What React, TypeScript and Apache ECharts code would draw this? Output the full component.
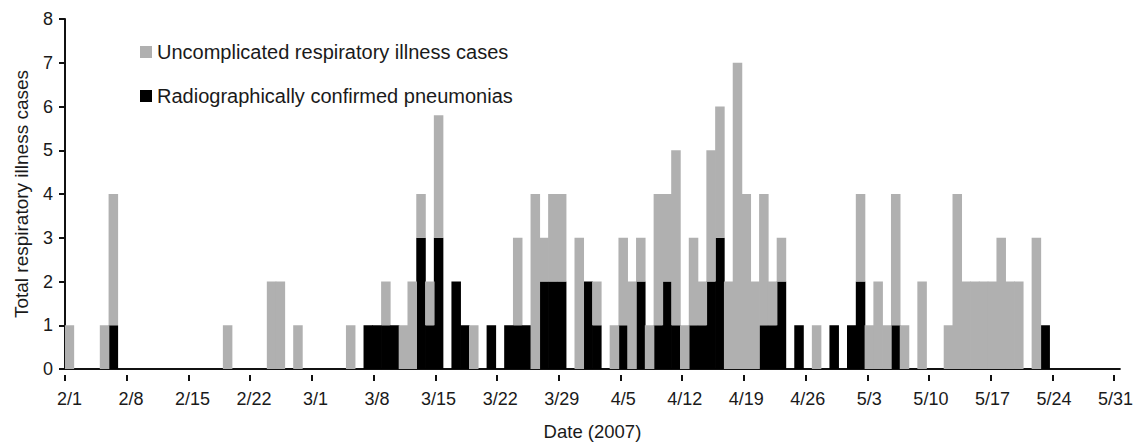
import React, { useEffect, useRef } from "react";
import * as echarts from "echarts";

// Daily counts from 2/1/2007 to 5/31/2007 (120 days), one row per week
const pneumonia: number[] = [
  0, 0, 0, 0, 0, 1, 0,
  0, 0, 0, 0, 0, 0, 0,
  0, 0, 0, 0, 0, 0, 0,
  0, 0, 0, 0, 0, 0, 0,
  0, 0, 0, 0, 0, 0, 1,
  1, 1, 1, 0, 0, 3, 1,
  3, 0, 2, 1, 0, 0, 1,
  0, 1, 1, 1, 0, 2, 2,
  2, 0, 0, 2, 1, 0, 0,
  1, 0, 2, 0, 1, 2, 1,
  0, 1, 1, 2, 3, 0, 0,
  0, 0, 1, 1, 2, 0, 1,
  0, 0, 0, 1, 0, 1, 2,
  0, 0, 0, 1, 0, 0, 0,
  0, 0, 0, 0, 0, 0, 0,
  0, 0, 0, 0, 0, 0, 1,
  0, 0, 0, 0, 0, 0, 0,
  0,
];

const uncomplicated: number[] = [
  1, 0, 0, 0, 1, 3, 0,
  0, 0, 0, 0, 0, 0, 0,
  0, 0, 0, 0, 1, 0, 0,
  0, 0, 2, 2, 0, 1, 0,
  0, 0, 0, 0, 1, 0, 0,
  0, 1, 0, 1, 2, 1, 1,
  2.8, 0, 0, 0, 1, 0, 0,
  0, 0, 2, 0, 4, 1, 2,
  2, 0, 3, 0, 1, 0, 1,
  2, 2, 1, 1, 3, 2, 4,
  1, 2, 1, 3, 3, 2, 7,
  4, 2, 3, 1, 1, 0, 0,
  0, 1, 0, 0, 0, 0, 2,
  1, 2, 1, 3, 1, 0, 2,
  0, 0, 1, 4, 2, 2, 2,
  2, 3, 2, 2, 0, 3, 0,
  0, 0, 0, 0, 0, 0, 0,
  0,
];

const startDate = { year: 2007, month: 2, day: 1 };
const dayCount = 120;
const categories: string[] = (() => {
  const out: string[] = [];
  const d = new Date(Date.UTC(startDate.year, startDate.month - 1, startDate.day));
  for (let i = 0; i < dayCount; i++) {
    out.push(`${d.getUTCMonth() + 1}/${d.getUTCDate()}`);
    d.setUTCDate(d.getUTCDate() + 1);
  }
  return out;
})();

const uncomplicatedName = "Uncomplicated respiratory illness cases";
const pneumoniaName = "Radiographically confirmed pneumonias";
const yAxisName = "Total respiratory illness cases";
const xAxisName = "Date (2007)";

const FONT = "'Liberation Sans', Arial, Helvetica, sans-serif";
const TEXT = "#1a1a1a";
const AXIS = "#111111";
const GRAY = "#b0b0b0";
const BLACK = "#000000";

const W = 1136;
const H = 446;
const GRID_LEFT = 65;
const GRID_RIGHT = 13;
const GRID_TOP = 19;
const GRID_BOTTOM = 71;

export default function App() {
  const ref = useRef<HTMLDivElement>(null);

  useEffect(() => {
    if (!ref.current) return;
    const chart = echarts.init(ref.current, undefined, { renderer: "svg" });
    const plotWidth = W - GRID_LEFT - GRID_RIGHT;
    const dayW = plotWidth / dayCount;
    const tickGridRight = W - GRID_LEFT - dayW * (dayCount - 1);

    chart.setOption({
      animation: false,
      backgroundColor: "#ffffff",
      textStyle: { fontFamily: FONT },
      legend: {
        data: [uncomplicatedName, pneumoniaName],
        orient: "vertical",
        left: 140,
        top: 42,
        padding: 0,
        itemWidth: 12,
        itemHeight: 12,
        itemGap: 24,
        icon: "rect",
        selectedMode: false,
        textStyle: { fontSize: 20, color: TEXT, fontFamily: FONT },
      },
      grid: [
        { left: GRID_LEFT, right: GRID_RIGHT, top: GRID_TOP, bottom: GRID_BOTTOM, containLabel: false },
        { left: GRID_LEFT, right: tickGridRight, top: GRID_TOP, bottom: GRID_BOTTOM, containLabel: false },
      ],
      xAxis: [
        {
          type: "category",
          gridIndex: 0,
          data: categories,
          boundaryGap: true,
          name: xAxisName,
          nameLocation: "middle",
          nameGap: 53,
          nameTextStyle: { fontSize: 18.5, color: TEXT, fontFamily: FONT },
          axisLine: { show: true, lineStyle: { color: AXIS, width: 2 } },
          axisTick: { show: false },
          axisLabel: {
            interval: 6,
            fontSize: 18,
            color: TEXT,
            margin: 21,
            fontFamily: FONT,
          },
          splitLine: { show: false },
        },
        {
          type: "value",
          gridIndex: 1,
          min: 0,
          max: dayCount - 1,
          interval: 7,
          axisLine: { show: false },
          axisTick: { show: true, length: 6, lineStyle: { color: AXIS, width: 2 } },
          axisLabel: { show: false },
          splitLine: { show: false },
        },
      ],
      yAxis: [
        {
          type: "value",
          gridIndex: 0,
          min: 0,
          max: 8,
          interval: 1,
          name: yAxisName,
          nameLocation: "middle",
          nameGap: 34,
          nameTextStyle: { fontSize: 19, color: TEXT, fontFamily: FONT },
          axisLine: { show: true, lineStyle: { color: AXIS, width: 2 } },
          axisTick: { show: true, length: 6, lineStyle: { color: AXIS, width: 2 } },
          axisLabel: { fontSize: 18, color: TEXT, margin: 12, fontFamily: FONT },
          splitLine: { show: false },
        },
        {
          type: "value",
          gridIndex: 1,
          min: 0,
          max: 8,
          show: false,
        },
      ],
      series: [
        {
          name: pneumoniaName,
          type: "bar",
          stack: "cases",
          xAxisIndex: 0,
          yAxisIndex: 0,
          data: pneumonia,
          barWidth: dayW + 0.7,
          barGap: "-100%",
          itemStyle: { color: BLACK },
        },
        {
          name: uncomplicatedName,
          type: "bar",
          stack: "cases",
          xAxisIndex: 0,
          yAxisIndex: 0,
          data: uncomplicated,
          barWidth: dayW + 0.7,
          barGap: "-100%",
          itemStyle: { color: GRAY },
        },
      ],
    });

    return () => {
      chart.dispose();
    };
  }, []);

  return (
    <div
      ref={ref}
      style={{ position: "absolute", left: 0, top: 0, width: W, height: H, background: "#fff" }}
    />
  );
}
